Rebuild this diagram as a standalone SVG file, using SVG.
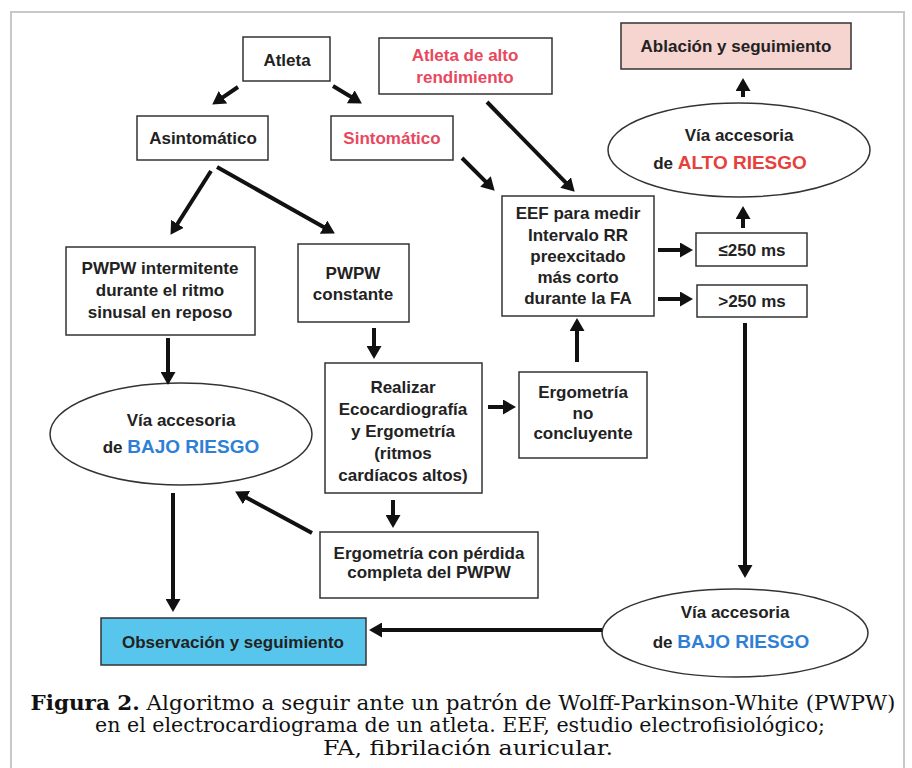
<svg xmlns="http://www.w3.org/2000/svg" width="912" height="768" viewBox="0 0 912 768">
<defs>
<marker id="ah" viewBox="0 0 13 15" markerWidth="13" markerHeight="15" refX="2" refY="7.5" orient="auto" markerUnits="userSpaceOnUse">
<path d="M0,0 L13,7.5 L0,15 z" fill="#111"/>
</marker>
<style>
.box{fill:#fff;stroke:#333;stroke-width:1.5}
.t{font-family:"Liberation Sans",Arial,sans-serif;font-weight:bold;font-size:17px;fill:#222;text-anchor:middle}
.red{fill:#e8485e}
.big{font-size:19px}
.blue{fill:#2f7fd6}
.rr{fill:#e8403a}
.cn line{stroke:#111;stroke-width:4;marker-end:url(#ah)}
.cap{font-family:"DejaVu Serif","Liberation Serif",serif;font-size:20px;fill:#111;text-anchor:middle}
</style>
</defs>
<rect width="912" height="768" fill="#fff"/>
<rect x="11" y="12" width="893" height="770" fill="none" stroke="#c8c8c8" stroke-width="2"/>

<g id="atleta"><rect class="box" x="243" y="37" width="87" height="44"/><text class="t" x="287" y="66">Atleta</text></g>
<g id="atleta-alto"><rect class="box" x="379" y="38" width="173" height="56"/><text class="t red" x="465" y="61">Atleta de alto</text><text class="t red" x="465" y="83">rendimiento</text></g>
<g id="ablacion"><rect class="box" x="621" y="23" width="230" height="46" style="fill:#f6d4d0"/><text class="t" x="736" y="52">Ablación y seguimiento</text></g>
<g id="via-alto"><ellipse class="box" cx="739" cy="150" rx="131" ry="47"/><text class="t" x="739" y="141">Vía accesoria</text><text class="t" x="730" y="169">de <tspan class="big rr">ALTO RIESGO</tspan></text></g>
<g id="asintomatico"><rect class="box" x="137" y="116" width="131" height="44"/><text class="t" x="203" y="144">Asintomático</text></g>
<g id="sintomatico"><rect class="box" x="331" y="116" width="122" height="44"/><text class="t red" x="392" y="144">Sintomático</text></g>
<g id="pwpw-int"><rect class="box" x="66" y="247" width="189" height="88"/><text class="t" x="160" y="274">PWPW intermitente</text><text class="t" x="160" y="296">durante el ritmo</text><text class="t" x="160" y="318">sinusal en reposo</text></g>
<g id="pwpw-const"><rect class="box" x="298" y="244" width="111" height="78"/><text class="t" x="353" y="279">PWPW</text><text class="t" x="353" y="300">constante</text></g>
<g id="eef"><rect class="box" x="502" y="196" width="152" height="120"/><text class="t" x="578" y="219">EEF para medir</text><text class="t" x="578" y="241">Intervalo RR</text><text class="t" x="578" y="262">preexcitado</text><text class="t" x="578" y="283">más corto</text><text class="t" x="578" y="304">durante la FA</text></g>
<g id="le250"><rect class="box" x="696" y="233" width="111" height="33"/><text class="t" x="752" y="256">≤250 ms</text></g>
<g id="gt250"><rect class="box" x="697" y="285" width="110" height="32"/><text class="t" x="752" y="307">&gt;250 ms</text></g>
<g id="via-bajo-1"><ellipse class="box" cx="181" cy="434" rx="131" ry="51"/><text class="t" x="181" y="426">Vía accesoria</text><text class="t" x="181" y="453">de <tspan class="big blue">BAJO RIESGO</tspan></text></g>
<g id="realizar"><rect class="box" x="325" y="363" width="157" height="130"/><text class="t" x="403" y="393">Realizar</text><text class="t" x="403" y="415">Ecocardiografía</text><text class="t" x="403" y="437">y Ergometría</text><text class="t" x="403" y="459">(ritmos</text><text class="t" x="403" y="481">cardíacos altos)</text></g>
<g id="ergo-nc"><rect class="box" x="519" y="372" width="128" height="86"/><text class="t" x="583" y="398">Ergometría</text><text class="t" x="583" y="419">no</text><text class="t" x="583" y="439">concluyente</text></g>
<g id="ergo-perdida"><rect class="box" x="320" y="532" width="218" height="66"/><text class="t" x="429" y="559">Ergometría con pérdida</text><text class="t" x="429" y="578">completa del PWPW</text></g>
<g id="via-bajo-2"><ellipse class="box" cx="735" cy="633" rx="133" ry="44"/><text class="t" x="735" y="618">Vía accesoria</text><text class="t" x="731" y="648">de <tspan class="big blue">BAJO RIESGO</tspan></text></g>
<g id="observacion"><rect class="box" x="101" y="618" width="265" height="47" style="fill:#58c6ec"/><text class="t" x="233" y="648">Observación y seguimiento</text></g>

<g id="connectors" class="cn">
<line x1="238" y1="87" x2="221.3" y2="98.4"/>
<line x1="333" y1="86" x2="352.5" y2="97.8"/>
<line x1="211" y1="171" x2="176.4" y2="225.5"/>
<line x1="217" y1="167" x2="325.3" y2="228.1"/>
<line x1="462" y1="158" x2="486.9" y2="182.9"/>
<line x1="487" y1="102" x2="567" y2="183.9"/>
<line x1="658" y1="250" x2="682" y2="250"/>
<line x1="658" y1="299" x2="682" y2="299"/>
<line x1="743" y1="228" x2="743" y2="217"/>
<line x1="743" y1="97" x2="743" y2="89"/>
<line x1="168" y1="338" x2="168" y2="374"/>
<line x1="374" y1="328" x2="374" y2="348"/>
<line x1="488" y1="407" x2="505" y2="407"/>
<line x1="577" y1="362" x2="577" y2="329"/>
<line x1="393" y1="500" x2="393" y2="517"/>
<line x1="312" y1="533" x2="244.8" y2="496.7"/>
<line x1="173" y1="493" x2="173" y2="601"/>
<line x1="745" y1="323" x2="745" y2="567"/>
<line x1="602" y1="630" x2="380" y2="630"/>
</g>

<g id="caption">
<text class="cap" x="463" y="710" textLength="865" lengthAdjust="spacingAndGlyphs"><tspan font-weight="bold">Figura 2.</tspan> Algoritmo a seguir ante un patrón de Wolff-Parkinson-White (PWPW)</text>
<text class="cap" x="460" y="732" textLength="730" lengthAdjust="spacingAndGlyphs">en el electrocardiograma de un atleta. EEF, estudio electrofisiológico;</text>
<text class="cap" x="468" y="755" textLength="290" lengthAdjust="spacingAndGlyphs">FA, fibrilación auricular.</text>
</g>
</svg>
